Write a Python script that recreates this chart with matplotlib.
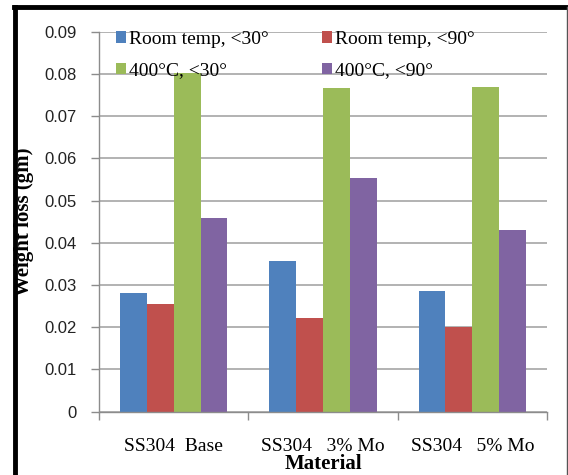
import numpy as np
import matplotlib.pyplot as plt
from matplotlib.lines import Line2D
from matplotlib.ticker import MultipleLocator, FixedLocator

materials = ["SS304  Base", "SS304   3% Mo", "SS304   5% Mo"]
series = ["Room temp, <30°", "Room temp, <90°", "400°C, <30°", "400°C, <90°"]
room_30 = [0.0281, 0.0357, 0.0286]
room_90 = [0.0255, 0.0222, 0.0200]
hot_30 = [0.0803, 0.0767, 0.0770]
hot_90 = [0.0459, 0.0553, 0.0431]
colors = ["#4F81BD", "#C0504D", "#9BBB59", "#8064A2"]

serif = "Liberation Serif"
sans = "Liberation Sans"

fig = plt.figure(figsize=(5.68, 4.75), dpi=100)
ax = fig.add_axes([99 / 568, (475 - 411.5) / 475, 448 / 568, 379.5 / 475])

x = np.arange(len(materials))
w = 0.18
bars = []
for i, (vals, lab, c) in enumerate(zip([room_30, room_90, hot_30, hot_90], series, colors)):
    bars.append(ax.bar(x + (i - 1.5) * w, vals, w, color=c, label=lab, zorder=2))

ax.set_xlim(-0.5, 2.5)
ax.set_ylim(0, 0.09)
ax.yaxis.set_major_locator(MultipleLocator(0.01))
ax.yaxis.set_major_formatter(lambda v, p: "0" if abs(v) < 1e-9 else f"{v:.2f}")
ax.grid(axis="y", color="#a6a6a6", linewidth=1.2, zorder=0)
ax.set_axisbelow(True)

for s in ["top", "right"]:
    ax.spines[s].set_visible(False)
for s in ["left", "bottom"]:
    ax.spines[s].set_color("#8c8c8c")
    ax.spines[s].set_linewidth(1.0)

ax.tick_params(axis="y", length=6, width=1.0, color="#8c8c8c", pad=10,
               labelsize=12, labelcolor="#222222")
for t in ax.get_yticklabels():
    t.set_fontfamily(sans)

ax.set_xticks(x)
ax.set_xticklabels(materials, fontfamily=serif, fontsize=14)
ax.tick_params(axis="x", which="major", length=0, pad=19)
ax.xaxis.set_minor_locator(FixedLocator([-0.5, 0.5, 1.5, 2.5]))
ax.tick_params(axis="x", which="minor", length=6, width=1.0, color="#8c8c8c")

ax.set_xlabel("Material", fontfamily=serif, fontsize=15, fontweight="bold")
ax.xaxis.set_label_coords(0.5, -0.152)
ax.xaxis.label.set_va("baseline")
ax.set_ylabel("Weight loss (gm)", fontfamily=serif, fontsize=15, fontweight="bold")
ax.yaxis.set_label_coords(-0.145, 0.50)

# legend fills rows: Room temp pair on top, 400°C pair below
order = [0, 2, 1, 3]
leg = ax.legend([bars[i] for i in order], [series[i] for i in order], ncol=2,
                loc="upper left", bbox_to_anchor=(0.02, 1.024), frameon=False,
                prop={"family": serif, "size": 14}, handlelength=0.55, handleheight=0.55,
                handletextpad=0.15, columnspacing=2.7, labelspacing=0.75, borderaxespad=0)

# figure border
fig.add_artist(Line2D([14 / 568, 567 / 568], [1 - 7 / 475, 1 - 7 / 475], color="black",
                      linewidth=3.5, transform=fig.transFigure))
fig.add_artist(Line2D([15 / 568, 15 / 568], [0, 1 - 7 / 475], color="black",
                      linewidth=3.5, transform=fig.transFigure))
fig.add_artist(Line2D([566.5 / 568, 566.5 / 568], [0, 1 - 7 / 475], color="#555555",
                      linewidth=1.0, transform=fig.transFigure))

fig.savefig("out.png", dpi=100)
